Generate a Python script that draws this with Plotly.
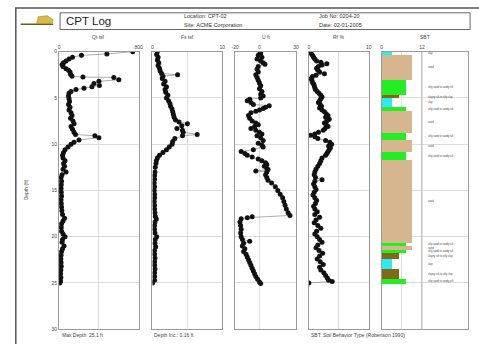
import plotly.graph_objects as go

W, H = 479, 344

# ---------------- data ----------------
qt_depth = [0.0, 0.25, 0.4, 0.6, 0.8, 1.0, 1.2, 1.4, 1.6, 1.85, 2.0, 2.2, 2.45, 2.65, 2.75, 2.8, 3.05,
            3.2, 3.45, 3.65, 3.8, 3.95, 4.1, 4.3, 4.5, 4.8, 5.1, 5.4, 5.7, 6.0, 6.3, 6.6, 6.9, 7.2,
            7.5, 7.8, 8.1, 8.4, 8.7, 8.95, 9.1, 9.3, 9.55, 9.8, 10.0, 10.3, 10.6, 10.9, 11.2, 11.5,
            11.8, 12.1, 12.4, 12.7, 13.0, 13.3, 13.6, 14.0, 14.4, 14.8, 15.2, 15.6, 16.0, 16.4, 16.8,
            17.2, 17.6, 18.0, 18.3, 18.6, 19.0, 19.4, 19.7, 20.0, 20.3, 20.6, 21.0, 21.3, 21.6, 22.0,
            22.4, 22.8, 23.2, 23.6, 24.0, 24.4, 24.8, 25.0]
qt_vals = [740, 480, 225, 135, 100, 70, 45, 30, 40, 70, 95, 110, 115, 130, 240, 550, 600,
           400, 350, 405, 330, 250, 170, 120, 100, 95, 100, 105, 95, 110, 100, 120, 130, 115,
           140, 150, 120, 135, 150, 165, 360, 400, 200, 150, 120, 90, 60, 45, 35, 40,
           60, 45, 55, 40, 70, 30, 20, 25, 22, 20, 22, 25, 20, 22, 25,
           28, 35, 55, 40, 25, 22, 25, 40, 60, 35, 30, 50, 35, 25, 20,
           18, 20, 22, 18, 15, 18, 15, 8]

fs_depth = [0.0, 0.3, 0.6, 0.9, 1.2, 1.5, 1.8, 2.1, 2.35, 2.5, 2.65, 2.9, 3.2, 3.5, 3.8, 4.1, 4.4,
            4.7, 5.0, 5.3, 5.6, 5.9, 6.2, 6.5, 6.8, 7.1, 7.4, 7.6, 7.8, 8.0, 8.3, 8.5, 8.7, 8.95,
            9.1, 9.4, 9.7, 10.0, 10.3, 10.6, 10.9, 11.2, 11.5, 11.8, 12.1, 12.5, 13.0, 13.4, 13.8,
            14.2, 14.6, 15.0, 15.4, 15.8, 16.2, 16.6, 17.0, 17.4, 17.8, 18.1, 18.4, 18.8, 19.2,
            19.6, 20.0, 20.3, 20.7, 21.1, 21.5, 21.9, 22.3, 22.7, 23.1, 23.5, 23.9, 24.3, 24.7, 25.0]
fs_vals = [0.7, 0.6, 0.8, 0.7, 0.9, 0.8, 1.0, 1.1, 1.3, 3.6, 1.5, 1.4, 1.8, 1.6, 2.0, 1.8, 1.9,
           2.2, 2.0, 2.3, 2.5, 2.6, 2.8, 2.9, 3.0, 3.1, 3.3, 3.8, 5.0, 4.2, 3.5, 4.3, 4.4, 6.4,
           4.3, 3.2, 2.9, 2.8, 2.4, 2.0, 1.5, 1.0, 0.7, 0.55, 0.5, 0.4, 0.35, 0.3, 0.3,
           0.25, 0.3, 0.25, 0.3, 0.3, 0.25, 0.3, 0.3, 0.35, 0.4, 0.55, 0.35, 0.3, 0.3,
           0.35, 0.6, 0.4, 0.35, 0.45, 0.3, 0.3, 0.35, 0.3, 0.3, 0.35, 0.3, 0.3, 0.3, 0.0]

u_depth = [0.0, 0.2, 0.4, 0.6, 0.8, 1.0, 1.2, 1.35, 1.6, 1.9, 2.2, 2.5, 2.8, 3.1, 3.4, 3.7, 4.0,
           4.3, 4.6, 4.8, 5.0, 5.15, 5.3, 5.5, 5.7, 5.85, 6.0, 6.15, 6.3, 6.45, 6.6, 6.9, 7.2, 7.5,
           7.7, 7.9, 8.1, 8.3, 8.5, 8.7, 8.9, 9.1, 9.3, 9.6, 9.9, 10.1, 10.3, 10.6, 10.8, 11.0,
           11.2, 11.4, 11.6, 11.8, 12.0, 12.2, 12.4, 12.6, 12.75, 12.9, 13.0, 13.3, 13.6, 13.9,
           14.2, 14.6, 15.0, 15.4, 15.8, 16.2, 16.6, 17.0, 17.4, 17.7, 17.85, 17.95, 18.05, 18.4,
           18.8, 19.2, 19.6, 20.0, 20.3, 20.5, 20.7, 21.0, 21.3, 21.6, 21.9, 22.2, 22.5, 22.8,
           23.1, 23.4, 23.7, 24.0, 24.3, 24.6, 24.9, 25.05]
u_vals = [0.5, 1, -1, 2, -2, 1, 3, 4.5, -1, -2, -1, -3, -2, -1, 0, 1, 0,
          2, 1, 3, 1, -8, -10, -7, -5, 8, 5, 3, 0, -3, -7, -9, -8, -6,
          -3, -1, -4, -7, -3, 0, 2, -2, 1, 3, -1, 2, 3, -5, -15, -12,
          -10, -6, -1, 2, 5, 6, 4, 6, 7, -3, 6, 5, 6, 7,
          10, 13, 15, 17, 19, 20, 21, 22, 23.5, 25, -6, -10, -15, -16,
          -15.5, -15, -15.5, -15, -14, -8, -13, -14, -12, -13, -11, -10, -9, -8,
          -7, -6, -5, -4, -3, -1.5, 0, 1]

rf_depth = [0.0, 0.2, 0.4, 0.6, 0.8, 1.0, 1.15, 1.3, 1.45, 1.6, 1.8, 2.0, 2.2, 2.4, 2.55, 2.7, 2.9,
            3.1, 3.3, 3.5, 3.7, 3.9, 4.1, 4.3, 4.5, 4.7, 4.9, 5.1, 5.3, 5.5, 5.7, 5.9, 6.1, 6.3,
            6.5, 6.7, 6.9, 7.1, 7.3, 7.5, 7.7, 7.9, 8.1, 8.3, 8.5, 8.7, 8.9, 9.05, 9.2, 9.4, 9.6,
            9.8, 10.0, 10.2, 10.4, 10.6, 10.8, 11.0, 11.2, 11.5, 11.8, 12.1, 12.4, 12.7, 13.0, 13.3,
            13.6, 13.85, 14.0, 14.3, 14.6, 14.9, 15.2, 15.5, 15.8, 16.1, 16.4, 16.7, 17.0, 17.3,
            17.6, 17.9, 18.2, 18.5, 18.8, 19.1, 19.4, 19.7, 20.0, 20.3, 20.6, 20.9, 21.2, 21.5,
            21.8, 22.1, 22.4, 22.7, 23.0, 23.3, 23.6, 23.9, 24.2, 24.5, 24.7, 24.85, 25.0]
rf_vals = [0.3, 0.4, 0.6, 0.8, 1.0, 1.3, 2.0, 3.0, 2.2, 1.6, 1.3, 1.5, 1.8, 2.6, 1.2, 0.6, 0.4,
           0.5, 0.6, 0.8, 0.9, 1.0, 1.1, 1.4, 1.7, 2.0, 2.2, 2.0, 1.8, 1.6, 1.9, 2.1, 1.8, 2.2,
           2.6, 2.9, 3.2, 2.8, 3.4, 3.0, 2.6, 2.9, 3.2, 2.7, 2.4, 1.6, 1.0, 0.3, 1.0, 1.5, 2.8,
           3.5, 3.8, 3.3, 3.6, 3.4, 3.2, 3.0, 2.8, 2.2, 2.0, 1.8, 1.5, 1.2, 1.0, 0.9,
           1.1, 2.2, 1.0, 0.8, 1.0, 1.2, 0.9, 0.7, 1.0, 1.3, 1.1, 0.8, 1.0, 1.4,
           1.0, 1.8, 1.2, 0.9, 1.5, 2.0, 1.3, 1.0, 1.4, 1.8, 2.2, 1.5, 1.2, 1.7,
           2.3, 1.8, 1.4, 1.9, 2.4, 1.8, 2.0, 2.5, 2.8, 3.1, 3.3, 3.9, 0.0]

sbt_top = [0.0, 0.3, 3.0, 4.7, 5.0, 5.9, 6.4, 8.8, 9.5, 10.8, 11.7, 20.6, 21.0, 21.4, 21.75, 22.4, 23.5, 24.5]
sbt_bottom = [0.3, 3.0, 4.7, 5.0, 5.9, 6.4, 8.8, 9.5, 10.8, 11.7, 20.6, 21.0, 21.4, 21.75, 22.4, 23.5, 24.5, 25.05]
sbt_zone = [3, 9, 7, 5, 3, 7, 9, 7, 9, 7, 9, 7, 9, 7, 5, 3, 5, 7]

zone_names = {3: "clay", 5: "clayey silt to silty clay", 7: "silty sand to sandy silt", 9: "sand"}
zone_colors = {3: "#2EEAF2", 5: "#7D6A12", 7: "#22EE22", 9: "#D6B68E"}

depth_ticks = [0, 5, 10, 15, 20, 25, 30]

# ---------------- helpers ----------------
def PX(x):
    return x / W


def PY(y):
    return 1 - y / H


TOP, BOT = 49.5, 332.0
FONT = "Liberation Sans, Arial, sans-serif"
GRID = "#dcdcdc"
FRAME = "#9a9a9a"

panels = [  # (left px, right px, range, tickvals, ticktext, title)
    (56, 137, [0, 800], [0, 400, 800], ["0", "", "800"], "Qt tsf"),
    (151, 222, [0, 10], [0, 5, 10], ["0", "", "10"], "Fs tsf"),
    (235, 297, [-20, 30], [-20, 0, 30], ["-20", "0", "30"], "U ft"),
    (310, 371, [0, 10], [0, 5, 10], ["0", "", "10"], "Rf %"),
    (384, 472, [0, 25.75], [0, 6, 12], ["0", "", "12"], "SBT"),
]

fig = go.Figure()

series = [(qt_vals, qt_depth), (fs_vals, fs_depth), (u_vals, u_depth), (rf_vals, rf_depth)]
for i, (xv, yv) in enumerate(series):
    n = "" if i == 0 else str(i + 1)
    fig.add_trace(go.Scatter(
        x=xv, y=yv, mode="lines+markers", xaxis="x" + n, yaxis="y" + n,
        line=dict(color="#8a8a8a", width=0.7),
        marker=dict(color="#111111", size=5),
        showlegend=False, hoverinfo="skip"))

mid = [(a + b) / 2 for a, b in zip(sbt_top, sbt_bottom)]
thick = [b - a for a, b in zip(sbt_top, sbt_bottom)]
fig.add_trace(go.Bar(
    x=sbt_zone, y=mid, width=thick, orientation="h", xaxis="x5", yaxis="y5",
    marker=dict(color=[zone_colors[z] for z in sbt_zone], line=dict(width=0)),
    showlegend=False, hoverinfo="skip"))

layout = dict(
    width=W, height=H, autosize=False, margin=dict(l=0, r=0, t=0, b=0),
    paper_bgcolor="white", plot_bgcolor="white", font=dict(family=FONT, color="#333"),
    bargap=0, showlegend=False,
)
annotations = []
for i, (l, r, rng, tv, tt, title) in enumerate(panels):
    n = "" if i == 0 else str(i + 1)
    layout["xaxis" + n] = dict(
        domain=[PX(l), PX(r)], range=rng, side="top", anchor="y" + n,
        tickvals=tv, ticktext=tt, ticks="", tickfont=dict(size=5, color="#444"),
        showgrid=True, gridcolor=GRID, gridwidth=1, zeroline=False,
        showline=True, linecolor=FRAME, linewidth=1, mirror=True, fixedrange=True)
    layout["yaxis" + n] = dict(
        domain=[PY(BOT), PY(TOP)], range=[30, 0], anchor="x" + n,
        tickvals=depth_ticks, ticks="", showticklabels=(i == 0),
        tickfont=dict(size=5, color="#444"),
        showgrid=True, gridcolor=GRID, gridwidth=1, zeroline=False,
        showline=True, linecolor=FRAME, linewidth=1, mirror=True, fixedrange=True)
    annotations.append(dict(x=PX((l + r) / 2), y=PY(35), xref="paper", yref="paper",
                            text=title, showarrow=False, font=dict(size=5, color="#444"),
                            xanchor="center", yanchor="middle"))

# SBT labels
for z, m in zip(sbt_zone, mid):
    annotations.append(dict(x=13.3, y=m, xref="x5", yref="y5", text=zone_names[z],
                            showarrow=False, font=dict(size=2.6, color="#444"),
                            xanchor="left", yanchor="middle"))

# header texts
annotations += [
    dict(x=PX(61), y=PY(18.5), text="CPT Log", font=dict(size=11.5, color="#222")),
    dict(x=PX(181), y=PY(13.5), text="Location: CPT-02", font=dict(size=5.5, color="#333")),
    dict(x=PX(181), y=PY(22), text="Site: ACME Corporation", font=dict(size=5.5, color="#333")),
    dict(x=PX(318), y=PY(13.5), text="Job No: 0204-20", font=dict(size=5.5, color="#333")),
    dict(x=PX(318), y=PY(22), text="Date: 02-01-2005", font=dict(size=5.5, color="#333")),
    dict(x=PX(57), y=PY(337.5), text="Max Depth: 25.1 ft", font=dict(size=5, color="#444")),
    dict(x=PX(151), y=PY(337.5), text="Depth Inc.: 0.16 ft", font=dict(size=5, color="#444")),
    dict(x=PX(310), y=PY(337.5), text="SBT: Soil Behavior Type (Robertson 1990)", font=dict(size=5, color="#444")),
]
for a in annotations[-8:]:
    a.update(xref="paper", yref="paper", showarrow=False, xanchor="left", yanchor="middle")

annotations.append(dict(x=PX(22), y=PY(190), xref="paper", yref="paper", text="Depth (ft)",
                        textangle=-90, showarrow=False, font=dict(size=5, color="#444"),
                        xanchor="center", yanchor="middle"))
layout["annotations"] = annotations

shapes = [
    # outer frame
    dict(type="rect", xref="paper", yref="paper", x0=PX(12), x1=PX(520), y0=PY(400), y1=PY(5),
         line=dict(color="#555", width=1.5)),
    # header box
    dict(type="rect", xref="paper", yref="paper", x0=PX(57), x1=PX(474), y0=PY(27), y1=PY(10),
         line=dict(color="#666", width=1)),
    # logo
    dict(type="line", xref="paper", yref="paper", x0=PX(17), x1=PX(50), y0=PY(21.5), y1=PY(21.5),
         line=dict(color="#6b5a1e", width=1.5)),
    dict(type="path", xref="paper", yref="paper",
         path=f"M {PX(33)} {PY(21)} L {PX(35)} {PY(14)} L {PX(44)} {PY(13)} L {PX(50)} {PY(17)} L {PX(49)} {PY(21)} Z",
         fillcolor="#d9b94a", line=dict(color="#a8862a", width=0.6)),
    # darker 12 line in SBT panel
    dict(type="line", xref="x5", yref="paper", x0=12, x1=12, y0=PY(BOT), y1=PY(TOP),
         line=dict(color="#b5b5b5", width=1)),
]
layout["shapes"] = shapes

fig.update_layout(**layout)
fig.write_html("out.html", config={"displayModeBar": False},
               post_script="document.body.style.margin='0';document.body.style.padding='0';"
                           "document.documentElement.style.overflow='hidden';")
